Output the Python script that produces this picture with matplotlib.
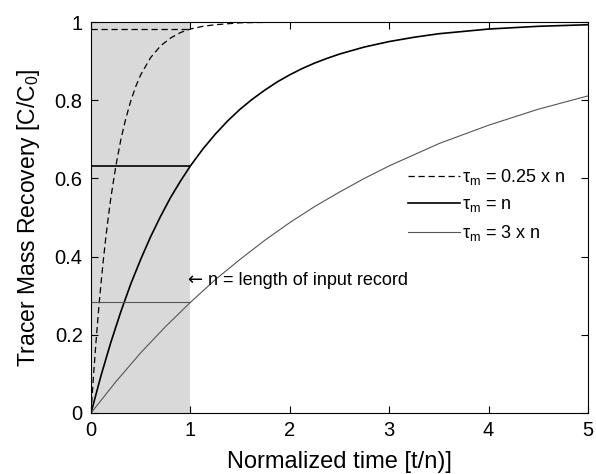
import matplotlib
matplotlib.use('Agg')
import matplotlib.pyplot as plt

plt.rcParams['font.family'] = ['Liberation Sans', 'DejaVu Sans']
plt.rcParams['mathtext.fontset'] = 'custom'
plt.rcParams['mathtext.rm'] = 'Liberation Sans'
plt.rcParams['mathtext.it'] = 'Liberation Sans'

# Recovery curves
t_fast = [0, 0.025, 0.05, 0.075, 0.1, 0.125, 0.15, 0.175, 0.2, 0.25, 0.3, 0.35, 0.4, 0.45, 0.5,
          0.6, 0.7, 0.8, 0.9, 1.0, 1.125, 1.25, 1.5, 1.75, 2.0, 2.5, 3.0, 4.0, 5.0]
c_fast = [0, 0.095, 0.181, 0.259, 0.330, 0.393, 0.451, 0.503, 0.551, 0.632, 0.699, 0.753, 0.798,
          0.835, 0.865, 0.909, 0.939, 0.959, 0.973, 0.982, 0.989, 0.993, 0.998, 0.999, 0.9997,
          1.0, 1.0, 1.0, 1.0]

t_mid = [0, 0.1, 0.2, 0.3, 0.4, 0.5, 0.6, 0.7, 0.8, 0.9, 1.0, 1.125, 1.25, 1.375, 1.5, 1.625,
         1.75, 1.875, 2.0, 2.125, 2.25, 2.375, 2.5, 2.75, 3.0, 3.25, 3.5, 3.75, 4.0, 4.5, 5.0]
c_mid = [0, 0.095, 0.181, 0.259, 0.330, 0.393, 0.451, 0.503, 0.551, 0.593, 0.632, 0.675, 0.713,
         0.747, 0.777, 0.803, 0.826, 0.847, 0.865, 0.881, 0.895, 0.907, 0.918, 0.936, 0.950,
         0.961, 0.970, 0.976, 0.982, 0.989, 0.993]

t_slow = [0, 0.25, 0.5, 0.75, 1.0, 1.25, 1.5, 1.75, 2.0, 2.25, 2.5, 2.75, 3.0, 3.5, 4.0, 4.5, 5.0]
c_slow = [0, 0.080, 0.154, 0.221, 0.283, 0.341, 0.393, 0.442, 0.487, 0.528, 0.565, 0.600, 0.632,
          0.689, 0.736, 0.777, 0.811]

# recovery at t = n (horizontal markers)
c_at_n = [0.982, 0.632, 0.283]
labels = [r'$\tau_{\mathrm{m}}$ = 0.25 x n', r'$\tau_{\mathrm{m}}$ = n', r'$\tau_{\mathrm{m}}$ = 3 x n']

fig = plt.figure(figsize=(5.96, 4.74), dpi=100)
ax = fig.add_axes([91 / 596, 1 - 413 / 474, 497 / 596, 391 / 474])

ax.axvspan(0, 1, color='#d9d9d9', lw=0, zorder=0)

styles = [dict(color='black', ls=(0, (5, 3)), lw=0.9),
          dict(color='black', ls='-', lw=1.2),
          dict(color='#555555', ls='-', lw=0.8)]

ax.plot(t_fast, c_fast, label=labels[0], **styles[0])
ax.plot(t_mid, c_mid, label=labels[1], **styles[1])
ax.plot(t_slow, c_slow, label=labels[2], **styles[2])
for c, st in zip(c_at_n, styles):
    ax.plot([0, 1], [c, c], **st)

ax.text(0.97, 0.34, '\u2190', fontsize=13, va='center', ha='left', family='DejaVu Sans')
ax.text(1.18, 0.34, 'n = length of input record', fontsize=13, va='center', ha='left')

ax.set_xlim(0, 5)
ax.set_ylim(0, 1)
ax.set_xticks([0, 1, 2, 3, 4, 5])
ax.set_yticks([0, 0.2, 0.4, 0.6, 0.8, 1])
ax.set_yticklabels(['0', '0.2', '0.4', '0.6', '0.8', '1'])
ax.tick_params(direction='in', top=True, right=True, length=5, labelsize=14.5, pad=6)
ax.set_xlabel('Normalized time [t/n)]', fontsize=17, labelpad=8)
ax.set_ylabel('Tracer Mass Recovery [C/C$_0$]', fontsize=16.5, labelpad=9)

ax.legend(loc='center left', bbox_to_anchor=(0.638, 0.532), frameon=False, fontsize=13,
          handlelength=2.9, handletextpad=0.1, borderpad=0, borderaxespad=0, labelspacing=0.5)

fig.savefig('out.png', dpi=100)
